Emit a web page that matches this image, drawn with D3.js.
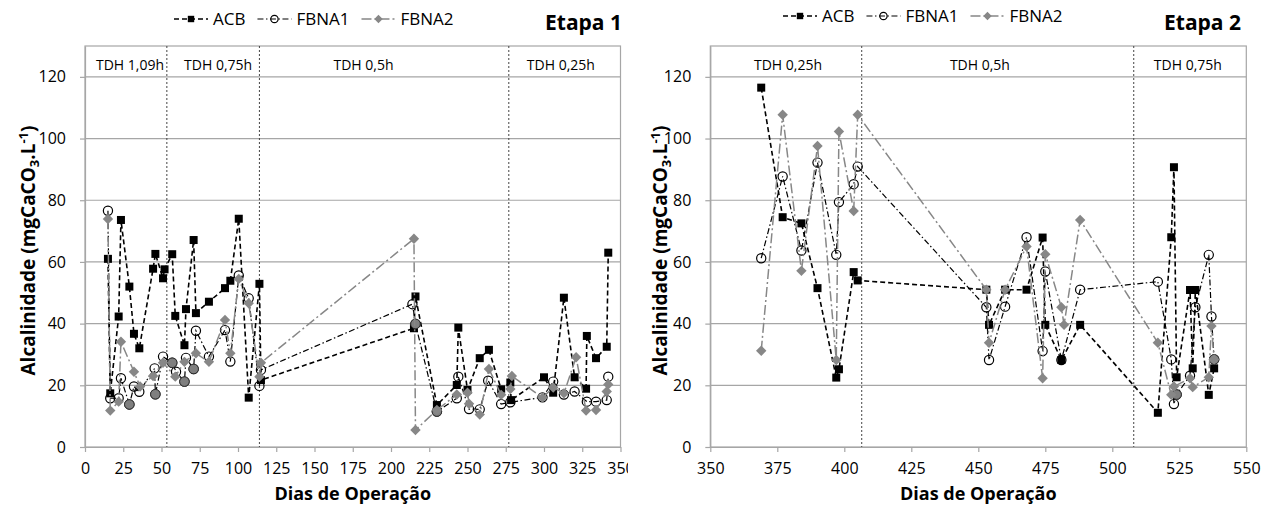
<!DOCTYPE html>
<html>
<head>
<meta charset="utf-8">
<script src="https://cdn.jsdelivr.net/npm/d3@7"></script>
<style>
  body { margin: 0; background: #fff; }
  text { font-family: 'Open Sans', sans-serif; }
</style>
</head>
<body>
<div id="chart"></div>
<script>
// ---- Etapa 1 ----
const acbDias1 = [15,16.5,22,23.5,29,32,35.5,44.5,46,51,52,57,59,65,66,71,72.5,81,91.5,95,100.5,107,114,115,215,216,230,243,244,250,258,264,272,278,278.5,300,306,313,320,327.5,328,334,341,342];
const acbValores1 = [61,17.4,42.3,73.6,52,36.7,32,57.8,62.6,54.7,57.6,62.5,42.5,33,44.7,67.1,43.4,47.1,51.5,53.9,74,16,52.9,21.7,38.5,48.8,13.6,20.1,38.7,18.5,28.8,31.5,18.7,20.9,15.2,22.6,17.6,48.4,22.6,18.9,36,28.8,32.5,63];
const fbna1Dias1 = [15,16.5,22,23.5,29,32,35.5,45.5,46,51,57,59.5,65,66,71,72.5,81,91.5,95,100.5,107,114,115,214,216,230,243,244,251,258,263.5,272,278,299,306,313,320,328,334,341,342];
const fbna1Valores1 = [76.6,15.8,15.8,22.3,13.8,19.6,17.9,25.5,17.1,29.3,27.3,24.4,21.2,28.9,25.3,37.7,29.3,37.9,27.7,55.6,48.2,19.8,25,46.3,39.9,11.5,15.8,22.8,12.3,12.2,21.5,13.9,14.5,16.1,21.2,17,18,14.7,14.7,15.2,22.8];
const fbna2Dias1 = [15,16.5,22,23.5,32,36,44.5,51,59,65,72.5,81,91.5,95,100.5,107,114,115,215,216,230,243,250,251,258,264,272,278,279,299,306,313,321,327.5,334,341,342];
const fbna2Valores1 = [73.9,11.8,14.7,34.1,24.4,19.6,23,27.3,22.8,27.6,30.4,27.6,41.2,30.4,54.5,46.6,22.8,27.3,67.5,5.5,12,17,17.6,14,10.5,25.3,16.9,18.8,23,16,19.3,17.4,29.1,11.8,12,18,20.3];
// pontos com marcador cinza preenchido
const cinzaDias1 = [29,46,57,65,71,216,230];
const cinzaValores1 = [13.8,17.1,27.3,21.2,25.3,39.9,11.5];
const trocasTdh1 = [53.5,114,277];
const tdhRotulos1 = ['TDH 1,09h','TDH 0,75h','TDH 0,5h','TDH 0,25h'];
const tdhDias1 = [29.4,87,182,311];

// ---- Etapa 2 ----
const acbDias2 = [369,377,384,390,397,398,403.5,405,453,454,460,468,474,475,481,488,517,522,523,524,529,530,531,536,538];
const acbValores2 = [116.5,74.5,72.5,51.5,22.5,25.2,56.7,54,51,39.6,51,51,67.9,39.6,28.2,39.6,11.1,68,90.7,22.6,50.9,25.5,50.9,16.9,25.5];
const fbna1Dias2 = [369,377,384,390,397,398,403.5,405,453,454,460,468,474,475,481,488,517,522,523,524,529,531,536,537,538];
const fbna1Valores2 = [61.2,87.7,63.7,92.2,62.3,79.4,85.2,90.9,45.3,28.2,45.5,68,31.1,56.9,28.2,51,53.6,28.4,13.9,17,23.1,45.3,62.3,42.3,28.4];
const fbna2Dias2 = [369,377,384,390,397,398,403.5,405,453,454,460,468,474,475,481,482,488,517,522,523,529,530,536,537,538];
const fbna2Valores2 = [31.2,107.7,57.1,97.6,28.2,102.3,76.5,107.7,51,33.8,51,65,22.3,62.5,45.3,39.6,73.6,33.8,16.9,19.6,22.3,19.4,22.6,39.2,28.4];
const cinzaDias2 = [524,538];
const cinzaValores2 = [17,28.4];
const trocasTdh2 = [406.5,508];
const tdhRotulos2 = ['TDH 0,25h','TDH 0,5h','TDH 0,75h'];
const tdhDias2 = [379,450.6,528.2];

const seriesNomes = ['ACB','FBNA1','FBNA2'];
const yTicks = [0,20,40,60,80,100,120];
const xTicks1 = d3.range(0, 351, 25);
const xTicks2 = d3.range(350, 551, 25);

const W = 1277, H = 511;
const plotTop = 46, plotBottom = 447;

const estilos = {
  ACB:   { cor: '#000', dash: '5,3', largura: 1.6, marcador: 'quadrado' },
  FBNA1: { cor: '#000', dash: '6,2.5,1.5,2.5', largura: 1.2, marcador: 'circulo' },
  FBNA2: { cor: '#878787', dash: '10,3,2,3', largura: 1.5, marcador: 'losango' }
};

const svg = d3.select('#chart').append('svg')
  .attr('width', W).attr('height', H);

function zip(dias, vals) {
  return dias.map((d, i) => ({ dia: d, valor: vals[i] }));
}

function desenhaMarcador(g, tipo, cx, cy, escala) {
  const k = escala || 1;
  if (tipo === 'quadrado') {
    g.append('rect').attr('x', cx - 4 * k).attr('y', cy - 4 * k)
      .attr('width', 8 * k).attr('height', 8 * k).attr('fill', '#000');
  } else if (tipo === 'circulo') {
    g.append('circle').attr('cx', cx).attr('cy', cy).attr('r', 4.6 * k)
      .attr('fill', 'none').attr('stroke', '#000').attr('stroke-width', 1.2);
  } else if (tipo === 'losango') {
    const s = 5.2 * k;
    g.append('path')
      .attr('d', `M${cx},${cy - s}L${cx + s},${cy}L${cx},${cy + s}L${cx - s},${cy}Z`)
      .attr('fill', '#878787');
  } else if (tipo === 'cinza') {
    g.append('circle').attr('cx', cx).attr('cy', cy).attr('r', 4.8)
      .attr('fill', '#7f7f7f').attr('stroke', '#333').attr('stroke-width', 1);
  }
}

function painel(cfg) {
  const g = svg.append('g');
  if (cfg.clipDir) {
    const id = 'clip' + cfg.id;
    svg.append('defs').append('clipPath').attr('id', id)
      .append('rect').attr('x', 0).attr('y', 0).attr('width', cfg.clipDir).attr('height', H);
    g.attr('clip-path', `url(#${id})`);
  }
  const x = d3.scaleLinear().domain(cfg.xDominio).range(cfg.xFaixa);
  const y = d3.scaleLinear().domain([0, 130]).range([plotBottom, plotTop]);
  const x0 = cfg.xFaixa[0], x1 = cfg.xFaixa[1];

  // grade
  g.append('g').selectAll('line').data(yTicks.filter(v => v > 0)).join('line')
    .attr('x1', x0).attr('x2', x1).attr('y1', d => y(d)).attr('y2', d => y(d))
    .attr('stroke', '#a6a6a6').attr('stroke-width', 1.2);

  // moldura
  g.append('rect').attr('x', x0).attr('y', plotTop).attr('width', x1 - x0).attr('height', plotBottom - plotTop)
    .attr('fill', 'none').attr('stroke', '#a6a6a6').attr('stroke-width', 1.2);

  // eixos
  const ax = g.append('g').attr('transform', `translate(0,${plotBottom})`)
    .call(d3.axisBottom(x).tickValues(cfg.xTicks).tickSize(5).tickSizeOuter(0).tickPadding(11));
  const ay = g.append('g').attr('transform', `translate(${x0},0)`)
    .call(d3.axisLeft(y).tickValues(yTicks).tickSize(5).tickSizeOuter(0).tickPadding(14));
  [ax, ay].forEach(a => {
    a.select('.domain').attr('stroke', '#a6a6a6').attr('stroke-width', 1.2);
    a.selectAll('.tick line').attr('stroke', '#a6a6a6').attr('stroke-width', 1.2);
    a.selectAll('.tick text').attr('fill', '#000').style('font-size', '16px')
      .style('font-family', "'Open Sans', sans-serif");
  });

  // linhas de troca de TDH
  g.append('g').selectAll('line').data(cfg.trocas).join('line')
    .attr('x1', d => x(d)).attr('x2', d => x(d)).attr('y1', plotTop).attr('y2', plotBottom)
    .attr('stroke', '#444').attr('stroke-width', 1).attr('stroke-dasharray', '2,2');

  g.append('g').selectAll('text').data(cfg.tdhRotulos).join('text')
    .attr('x', (d, i) => x(cfg.tdhDias[i])).attr('y', 70)
    .attr('text-anchor', 'middle').style('font-size', '14px').text(d => d);

  // series
  const linha = d3.line().x(d => x(d.dia)).y(d => y(d.valor));
  cfg.series.forEach(s => {
    const e = estilos[s.nome];
    g.append('path').datum(s.dados).attr('d', linha)
      .attr('fill', 'none').attr('stroke', e.cor).attr('stroke-width', e.largura)
      .attr('stroke-dasharray', e.dash);
    const gm = g.append('g');
    s.dados.forEach(d => desenhaMarcador(gm, e.marcador, x(d.dia), y(d.valor)));
    if (s.nome === 'FBNA1') {
      cfg.cinza.forEach(d => desenhaMarcador(gm, 'cinza', x(d.dia), y(d.valor)));
    }
  });

  // titulo do eixo y
  const ty = g.append('text')
    .attr('transform', `translate(${cfg.tituloYx},${(plotTop + plotBottom) / 2 + 4}) rotate(-90)`)
    .attr('text-anchor', 'middle').style('font-size', '19px').style('font-weight', 'bold');
  ty.append('tspan').text('Alcalinidade (mgCaCO');
  ty.append('tspan').attr('dy', 4).style('font-size', '13px').text('3');
  ty.append('tspan').attr('dy', -4).text('.L');
  ty.append('tspan').attr('dy', -7).style('font-size', '13px').text('-1');
  ty.append('tspan').attr('dy', 7).text(')');

  // titulo do eixo x
  g.append('text').attr('x', (x0 + x1) / 2).attr('y', 500)
    .attr('text-anchor', 'middle').style('font-size', '18px').style('font-weight', 'bold')
    .text('Dias de Operação');

  // legenda
  const lg = svg.append('g');
  let cx = cfg.legX;
  const ly = cfg.legY;
  seriesNomes.forEach(nome => {
    const e = estilos[nome];
    lg.append('line').attr('x1', cx).attr('x2', cx + 34).attr('y1', ly - 6).attr('y2', ly - 6)
      .attr('stroke', e.cor).attr('stroke-width', e.largura).attr('stroke-dasharray', e.dash);
    desenhaMarcador(lg, e.marcador, cx + 17, ly - 6, 0.8);
    const t = lg.append('text').attr('x', cx + 39).attr('y', ly)
      .style('font-size', '17px').text(nome);
    cx += 39 + t.node().getComputedTextLength() + 12;
  });

  svg.append('text').attr('x', cfg.etapaX).attr('y', 30).attr('text-anchor', 'end')
    .style('font-size', '21px').style('font-weight', 'bold').text(cfg.etapa);
}

painel({
  id: 1, clipDir: 628,
  xDominio: [0, 350], xFaixa: [85, 620.5], xTicks: xTicks1,
  trocas: trocasTdh1, tdhRotulos: tdhRotulos1, tdhDias: tdhDias1,
  series: [
    { nome: 'ACB', dados: zip(acbDias1, acbValores1) },
    { nome: 'FBNA1', dados: zip(fbna1Dias1, fbna1Valores1) },
    { nome: 'FBNA2', dados: zip(fbna2Dias1, fbna2Valores1) }
  ],
  cinza: zip(cinzaDias1, cinzaValores1),
  tituloYx: 35, legX: 174, legY: 25, etapa: 'Etapa 1', etapaX: 622
});

painel({
  id: 2, clipDir: null,
  xDominio: [350, 550], xFaixa: [710.3, 1246.3], xTicks: xTicks2,
  trocas: trocasTdh2, tdhRotulos: tdhRotulos2, tdhDias: tdhDias2,
  series: [
    { nome: 'ACB', dados: zip(acbDias2, acbValores2) },
    { nome: 'FBNA1', dados: zip(fbna1Dias2, fbna1Valores2) },
    { nome: 'FBNA2', dados: zip(fbna2Dias2, fbna2Valores2) }
  ],
  cinza: zip(cinzaDias2, cinzaValores2),
  tituloYx: 667, legX: 783, legY: 22, etapa: 'Etapa 2', etapaX: 1241
});
</script>
</body>
</html>
